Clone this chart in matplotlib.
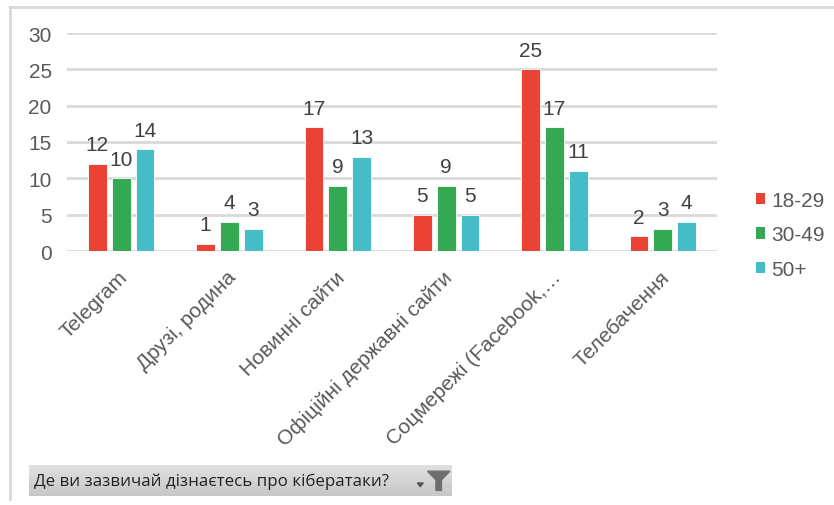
import matplotlib.pyplot as plt
import numpy as np
from matplotlib.patches import Polygon, Patch
from matplotlib.lines import Line2D
from matplotlib.transforms import ScaledTranslation

plt.rcParams.update({
    'font.family': ['Liberation Sans', 'DejaVu Sans'],
    'font.size': 15,
    'text.color': '#595959',
})

# Data
categories = ['Telegram', 'Друзі, родина', 'Новинні сайти',
              'Офіційні державні сайти', 'Соцмережі (Facebook,…', 'Телебачення']
series_names = ['18-29', '30-49', '50+']
age_18_29 = [12, 1, 17, 5, 25, 2]
age_30_49 = [10, 4, 9, 9, 17, 3]
age_50_plus = [14, 3, 13, 5, 11, 4]
colors = ['#EA4335', '#34A853', '#46BDC6']
filter_label = 'Де ви зазвичай дізнаєтесь про кібератаки?'

W, H = 834, 506
fig = plt.figure(figsize=(W / 100, H / 100), dpi=100)


def fx(px):
    return px / W


def fy(py):
    return 1 - py / H


# chart frame (left and top edges visible)
fig.add_artist(Line2D([fx(10), fx(10)], [fy(8), fy(500)], color='#D9D9D9', lw=2))
fig.add_artist(Line2D([fx(10), 1], [fy(8), fy(8)], color='#D9D9D9', lw=2))

ax = fig.add_axes([fx(67), fy(252), fx(717) - fx(67), fy(34) - fy(252)])

x = np.arange(len(categories))
bw = 0.175
gap = 0.045
series = [age_18_29, age_30_49, age_50_plus]
for i, (vals, name, c) in enumerate(zip(series, series_names, colors)):
    offs = (i - 1) * (bw + gap)
    bars = ax.bar(x + offs, vals, width=bw, color=c, edgecolor='white',
                  linewidth=0.6, label=name, zorder=3)
    for b, v in zip(bars, vals):
        ax.annotate(str(v), (b.get_x() + b.get_width() / 2, v),
                    xytext=(0, 7), textcoords='offset points',
                    ha='center', va='bottom', fontsize=15, color='#404040')

ax.set_xlim(-0.5, len(categories) - 0.5)
ax.set_ylim(0, 30)
ax.set_yticks(np.arange(0, 31, 5))
ax.grid(axis='y', color='#D9D9D9', linewidth=2)
ax.set_axisbelow(True)
for s in ax.spines.values():
    s.set_visible(False)
ax.tick_params(axis='both', length=0, labelsize=15, colors='#595959')
ax.tick_params(axis='y', pad=11)
ax.set_xticks(x)
ax.set_xticklabels(categories, rotation=45, ha='right', va='top',
                   rotation_mode='anchor')
ax.tick_params(axis='x', pad=8)
shift = ScaledTranslation(-3 / 100, -5 / 100, fig.dpi_scale_trans)
for lbl in ax.get_xticklabels():
    lbl.set_transform(lbl.get_transform() + shift)

handles = [Patch(facecolor=c, edgecolor='none', label=n)
           for c, n in zip(colors, series_names)]
fig.legend(handles=handles, loc='center left', bbox_to_anchor=(fx(737), fy(236)),
           frameon=False, fontsize=15, handlelength=0.45, handleheight=0.45,
           handletextpad=0.3, labelspacing=0.75, labelcolor='#595959')

# filter button
bax = fig.add_axes([fx(29), fy(497), fx(452) - fx(29), fy(466) - fy(497)])
grad = np.linspace(0.88, 0.78, 50).reshape(-1, 1)
bax.imshow(np.repeat(grad, 2, axis=1), cmap='gray', vmin=0, vmax=1,
           aspect='auto', extent=[0, 1, 0, 1], origin='upper')
bax.set_xlim(0, 1)
bax.set_ylim(0, 1)
bax.axis('off')
bax.text(0.012, 0.5, filter_label, fontsize=12.2, family=['Open Sans', 'DejaVu Sans'],
         color='#222222', va='center', ha='left', transform=bax.transAxes)
bax.add_patch(Polygon([[0.942, 0.80], [0.995, 0.80], [0.975, 0.52],
                       [0.975, 0.18], [0.962, 0.18], [0.962, 0.52]],
                      closed=True, color='#6E6E6E', transform=bax.transAxes))
bax.add_patch(Polygon([[0.918, 0.42], [0.932, 0.42], [0.925, 0.30]],
                      closed=True, color='#555555', transform=bax.transAxes))

fig.savefig('out.png', dpi=100, facecolor='white')
